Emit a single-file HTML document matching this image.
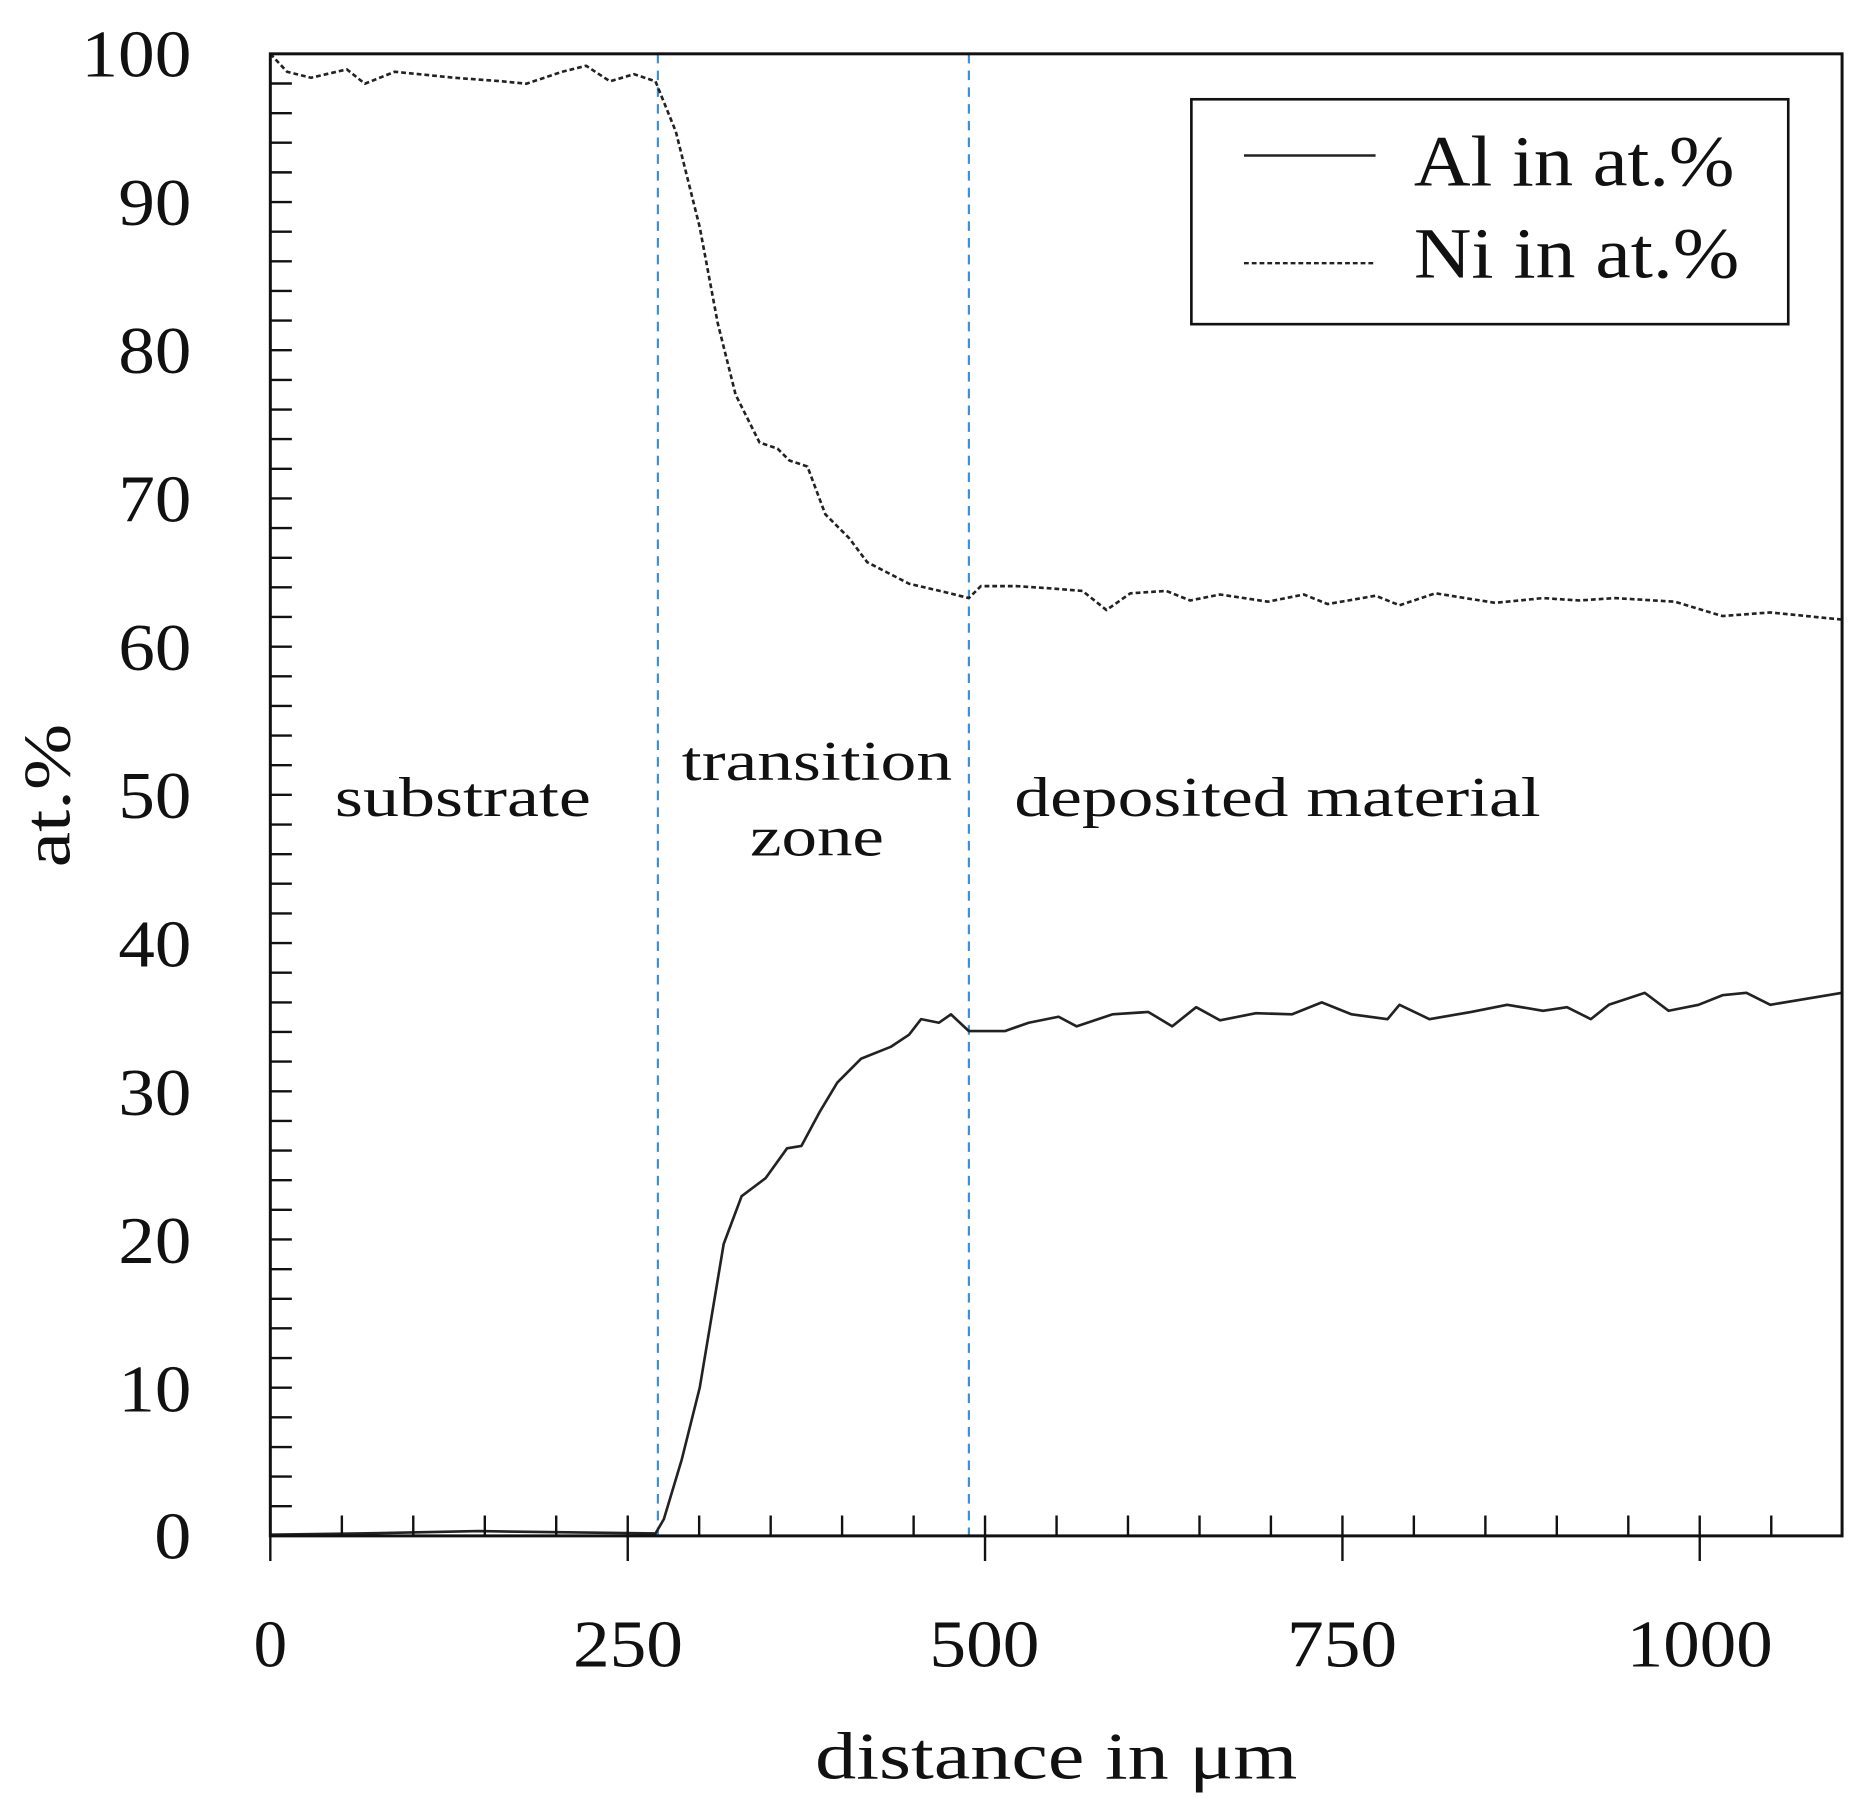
<!DOCTYPE html>
<html><head><meta charset="utf-8"><style>html,body{margin:0;padding:0;background:#fff}svg{display:block}</style></head>
<body>
<svg width="1866" height="1814" viewBox="0 0 1560 1516.5" preserveAspectRatio="none" xmlns="http://www.w3.org/2000/svg" font-family="'Liberation Serif', serif" fill="#111">
<rect width="1560" height="1516.5" fill="#fff"/>
<line x1="550" y1="45" x2="550" y2="1284" stroke="#3b8fd9" stroke-width="1.8" stroke-dasharray="8 6"/>
<line x1="810" y1="45" x2="810" y2="1284" stroke="#3b8fd9" stroke-width="1.8" stroke-dasharray="8 6"/>
<polyline fill="none" stroke="#222" stroke-width="2.2" stroke-dasharray="4 2.5" stroke-linejoin="round" points="226,45 240,60 260,65 290,58 305,70 330,60 380,65 420,68 440,70 470,60 490,55 510,68 530,62 548,68 565,110 585,190 600,270 615,330 635,370 650,375 660,385 675,390 690,430 710,450 725,470 760,488 790,495 810,500 820,490 850,490 880,492 905,494 925,510 945,496 975,494 995,502 1020,497 1060,503 1090,497 1110,505 1150,498 1170,506 1200,496 1250,504 1290,500 1320,502 1350,500 1400,503 1440,515 1480,512 1510,515 1540,518"/>
<polyline fill="none" stroke="#222" stroke-width="2.2" stroke-linejoin="round" points="226,1283 300,1282 400,1280 548,1282 555,1270 570,1220 585,1160 595,1100 605,1040 620,1000 640,985 658,960 670,958 685,930 700,905 720,885 745,875 760,865 770,852 785,855 795,848 810,862 840,862 860,855 885,850 900,858 930,848 960,846 980,858 1000,842 1020,853 1050,847 1080,848 1105,838 1130,848 1160,852 1170,840 1195,852 1230,846 1260,840 1290,845 1310,842 1330,852 1345,840 1375,830 1395,845 1420,840 1440,832 1460,830 1480,840 1510,835 1540,830"/>
<rect x="226" y="45" width="1314" height="1239" fill="none" stroke="#111" stroke-width="2.5"/>
<g stroke="#111" stroke-width="2">
<path d="M226,69.8h18M226,94.6h18M226,119.3h18M226,144.1h18M226,168.9h18M226,193.7h18M226,218.5h18M226,243.2h18M226,268h18M226,292.8h18M226,317.6h18M226,342.4h18M226,367.1h18M226,391.9h18M226,416.7h18M226,441.5h18M226,466.3h18M226,491h18M226,515.8h18M226,540.6h18M226,565.4h18M226,590.2h18M226,614.9h18M226,639.7h18M226,664.5h18M226,689.3h18M226,714.1h18M226,738.8h18M226,763.6h18M226,788.4h18M226,813.2h18M226,838h18M226,862.7h18M226,887.5h18M226,912.3h18M226,937.1h18M226,961.9h18M226,986.6h18M226,1011.4h18M226,1036.2h18M226,1061h18M226,1085.8h18M226,1110.5h18M226,1135.3h18M226,1160.1h18M226,1184.9h18M226,1209.7h18M226,1234.4h18M226,1259.2h18"/>
<path d="M285.8,1284v-17M345.5,1284v-17M405.3,1284v-17M465,1284v-17M584.5,1284v-17M644.3,1284v-17M704,1284v-17M763.8,1284v-17M883.3,1284v-17M943,1284v-17M1002.8,1284v-17M1062.5,1284v-17M1182,1284v-17M1241.8,1284v-17M1301.5,1284v-17M1361.3,1284v-17M1480.8,1284v-17"/>
<path d="M226,1267v38M524.8,1267v38M823.5,1267v38M1122.3,1267v38M1421,1267v38"/>
</g>
<g font-size="56" text-anchor="end" lengthAdjust="spacingAndGlyphs">
<text x="160" y="64" textLength="92" lengthAdjust="spacingAndGlyphs">100</text><text x="160" y="188" textLength="61" lengthAdjust="spacingAndGlyphs">90</text><text x="160" y="312" textLength="61" lengthAdjust="spacingAndGlyphs">80</text><text x="160" y="436" textLength="61" lengthAdjust="spacingAndGlyphs">70</text><text x="160" y="560" textLength="61" lengthAdjust="spacingAndGlyphs">60</text><text x="160" y="684" textLength="61" lengthAdjust="spacingAndGlyphs">50</text><text x="160" y="808" textLength="61" lengthAdjust="spacingAndGlyphs">40</text><text x="160" y="932" textLength="61" lengthAdjust="spacingAndGlyphs">30</text><text x="160" y="1056" textLength="61" lengthAdjust="spacingAndGlyphs">20</text><text x="160" y="1180" textLength="61" lengthAdjust="spacingAndGlyphs">10</text><text x="160" y="1303" textLength="31" lengthAdjust="spacingAndGlyphs">0</text>
</g>
<g font-size="56" text-anchor="middle">
<text x="226" y="1393">0</text><text x="525" y="1393" textLength="92" lengthAdjust="spacingAndGlyphs">250</text><text x="823" y="1393" textLength="92" lengthAdjust="spacingAndGlyphs">500</text><text x="1122" y="1393" textLength="92" lengthAdjust="spacingAndGlyphs">750</text><text x="1421" y="1393" textLength="122" lengthAdjust="spacingAndGlyphs">1000</text>
<text x="883" y="1487" textLength="403" lengthAdjust="spacingAndGlyphs">distance in μm</text>
</g>
<text transform="translate(58,665) rotate(-90)" font-size="56" text-anchor="middle" textLength="120" lengthAdjust="spacingAndGlyphs">at.%</text>
<g font-size="47" text-anchor="middle">
<text x="387" y="682" textLength="214" lengthAdjust="spacingAndGlyphs">substrate</text>
<text x="683" y="652" textLength="226" lengthAdjust="spacingAndGlyphs">transition</text>
<text x="683" y="715" textLength="112" lengthAdjust="spacingAndGlyphs">zone</text>
<text x="1068" y="682" textLength="440" lengthAdjust="spacingAndGlyphs">deposited material</text>
</g>
<rect x="996" y="83" width="499" height="188" fill="#fff" stroke="#111" stroke-width="2.2"/>
<line x1="1040" y1="130" x2="1150" y2="130" stroke="#222" stroke-width="2"/>
<line x1="1040" y1="220" x2="1150" y2="220" stroke="#222" stroke-width="2" stroke-dasharray="4 2.5"/>
<g font-size="60">
<text x="1182" y="155" textLength="268" lengthAdjust="spacingAndGlyphs">Al in at.%</text>
<text x="1182" y="232" textLength="272" lengthAdjust="spacingAndGlyphs">Ni in at.%</text>
</g>
</svg>
</body></html>
